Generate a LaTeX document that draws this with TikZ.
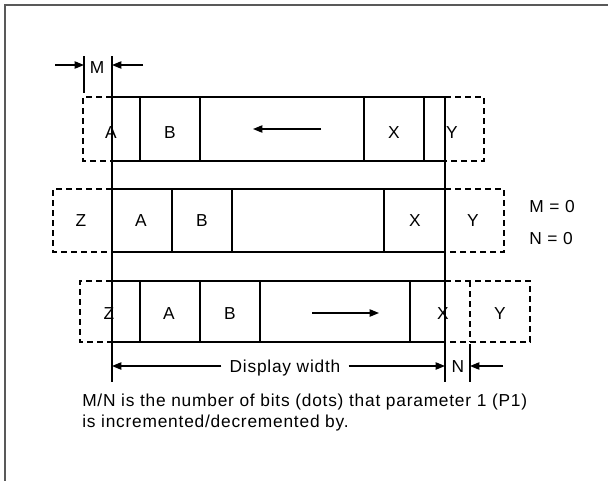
\documentclass[tikz,border=0pt]{standalone}
\usepackage{fontspec}
\setmainfont{Liberation Sans}[LetterSpace=4.5]
\usetikzlibrary{arrows.meta,positioning}

\begin{document}
\begin{tikzpicture}[
  x=0.75pt, y=-0.75pt,
  font=\fontsize{13}{15.75}\selectfont,
  frame/.style={draw=black!65, line width=1.5pt},
  cell/.style={line width=0.9pt},
  ghost/.style={line width=0.9pt, dash pattern=on 4.5pt off 3pt},
  dim/.style={-{Triangle[length=7pt,width=5.5pt]}, line width=0.9pt},
  lbl/.style={inner sep=0pt, anchor=base},
  gap/.style={inner xsep=6pt, inner ysep=0pt, anchor=base}
]
\useasboundingbox (0,0) rectangle (608,480);
\draw[frame] (5,5) rectangle (660,520);

% display edges
\coordinate (dtl) at (112,56);  \coordinate (dbl) at (112,382);
\coordinate (dtr) at (445,97);  \coordinate (dbr) at (445,382);
\draw[cell] (dtl) -- (dbl);
\draw[cell] (dtr) -- (dbr);

% row 1: shifted left by M
\draw[cell] (112,97) -- (445,97) (112,161) -- (445,161);
\foreach \x in {140,200,364,424} \draw[cell] (\x,97) -- (\x,161);
\draw[ghost] (112,97) -- (83,97) -- (83,161) -- (112,161);
\draw[ghost] (445,97) -- (484,97) -- (484,161) -- (445,161);
\node[lbl] (a1) at (111,138) {A};
\node[lbl] (b1) at (170,138) {B};
\node[lbl] (x1) at (394,138) {X};
\node[lbl] (y1) at (452,138) {Y};
\coordinate (s1) at (321,129); \coordinate (e1) at (253,129);
\draw[dim] (s1) -- (e1);

% row 2: no shift
\draw[cell] (112,189) -- (445,189) (112,252) -- (445,252);
\foreach \x in {172,232,384} \draw[cell] (\x,189) -- (\x,252);
\draw[ghost] (112,189) -- (53,189) -- (53,252) -- (112,252);
\draw[ghost] (445,189) -- (504,189) -- (504,252) -- (445,252);
\node[lbl] (z2) at (81,226) {Z};
\node[lbl] (a2) at (141,226) {A};
\node[lbl] (b2) at (202,226) {B};
\node[lbl] (x2) at (415,226) {X};
\node[lbl] (y2) at (473,226) {Y};
\node[lbl] (m0) at (552,212) {M = 0};
\node[lbl] (n0) at (551,244) {N = 0};

% row 3: shifted right by N
\draw[cell] (112,281) -- (445,281) (112,342) -- (445,342);
\foreach \x in {140,200,260,410} \draw[cell] (\x,281) -- (\x,342);
\draw[ghost] (112,281) -- (80,281) -- (80,342) -- (112,342);
\draw[ghost] (445,281) -- (530,281) -- (530,342) -- (445,342);
\draw[ghost] (470,281) -- (470,342);
\node[lbl] (z3) at (109,319.5) {Z};
\node[lbl] (a3) at (169,319.5) {A};
\node[lbl] (b3) at (230,319.5) {B};
\node[lbl] (x3) at (443,319.5) {X};
\node[lbl] (y3) at (500,319.5) {Y};
\coordinate (s3) at (312,313); \coordinate (e3) at (379,313);
\draw[dim] (s3) -- (e3);

% M offset
\coordinate (mt) at (84,56); \coordinate (mb) at (84,93);
\draw[cell] (mt) -- (mb);
\node[lbl] (mlab) at (97,73) {M};
\coordinate (mlo) at (55,65);  \coordinate (ml) at (84,65);
\coordinate (mro) at (143,65); \coordinate (mr) at (112,65);
\draw[dim] (mlo) -- (ml);
\draw[dim] (mro) -- (mr);

% display width and N offset
\node[gap] (dw) at (285,372) {Display width};
\coordinate (dl) at (112,366); \coordinate (dr) at (445,366);
\draw[dim] (dw.west |- dl) -- (dl);
\draw[dim] (dw.east |- dr) -- (dr);
\coordinate (nt) at (470,344); \coordinate (nb) at (470,382);
\draw[cell] (nt) -- (nb);
\node[lbl] (nlab) at (458,372) {N};
\coordinate (nro) at (503,366); \coordinate (nr) at (470,366);
\draw[dim] (nro) -- (nr);

% note
\node[lbl, anchor=base west] (note1) at (82,406.5) {M/N is the number of bits (dots) that parameter 1 (P1)};
\node[lbl, anchor=base west] (note2) at (82,427.5) {is incremented/decremented by.};
\end{tikzpicture}
\end{document}
